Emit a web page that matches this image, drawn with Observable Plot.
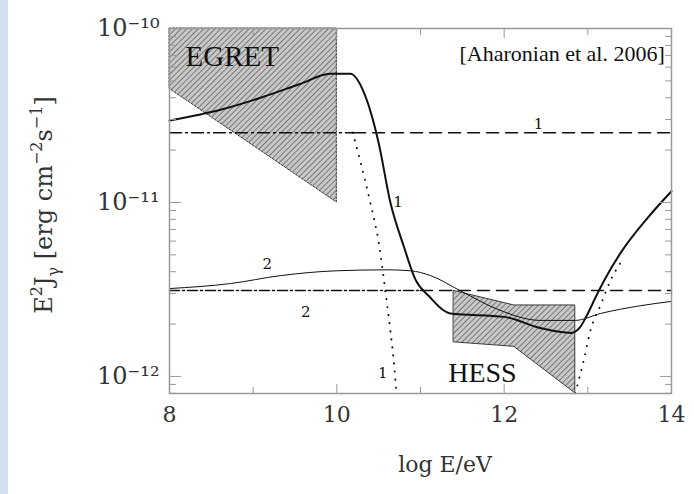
<!DOCTYPE html>
<html><head><meta charset="utf-8">
<script src="https://cdn.jsdelivr.net/npm/d3@7"></script>
<script src="https://cdn.jsdelivr.net/npm/@observablehq/plot@0.6"></script>
<style>
body{margin:0;background:#fff;}
#wrap{position:relative;width:694px;height:494px;background:linear-gradient(to right,#cfe0f2 0,#cfe0f2 8px,#fff 8px);}
</style></head><body><div id="wrap"></div>
<script>
const curve1X = [8, 8.61, 9.09, 9.56, 9.92, 10.16, 10.34, 10.5, 10.64, 10.8, 10.94, 11.1, 11.36, 12.0, 12.43, 12.8, 12.9, 13.0, 13.1, 13.2, 13.4, 13.7, 14];
const curve1Y = [2.96e-11, 3.41e-11, 4.0e-11, 4.8e-11, 5.5e-11, 5.5e-11, 4.1e-11, 2.2e-11, 1.0e-11, 5.6e-12, 3.6e-12, 2.9e-12, 2.3e-12, 2.2e-12, 1.9e-12, 1.78e-12, 1.9e-12, 2.3e-12, 2.9e-12, 3.6e-12, 5.2e-12, 8.0e-12, 1.16e-11];
const curve2X = [8, 8.73, 9.33, 10, 10.6, 10.88, 11.12, 11.48, 11.95, 12.43, 12.85, 13.15, 13.63, 14];
const curve2Y = [3.2e-12, 3.42e-12, 3.8e-12, 4.05e-12, 4.1e-12, 4.05e-12, 3.8e-12, 3.1e-12, 2.4e-12, 2.1e-12, 2.1e-12, 2.3e-12, 2.55e-12, 2.7e-12];
const dotLX = [10.19, 10.28, 10.4, 10.5, 10.58, 10.64, 10.68, 10.71];
const dotLY = [2.52e-11, 1.73e-11, 1.0e-11, 5.9e-12, 3.1e-12, 1.83e-12, 1.23e-12, 8.2e-13];
const dotRX = [12.85, 12.95, 13.03, 13.15, 13.27, 13.39];
const dotRY = [8.0e-13, 1.23e-12, 1.83e-12, 2.55e-12, 3.55e-12, 4.5e-12];
const egretX = [8, 10];
const egretLow = [4.5e-11, 1.0e-11];
const egretHigh = [1e-10, 1e-10];
const hessX = [11.4, 12.12, 12.85];
const hessLow = [1.57e-12, 1.48e-12, 8.0e-13];
const hessHigh = [3.1e-12, 2.56e-12, 2.56e-12];
const level1 = 2.52e-11, level2 = 3.12e-12;
const level1Split = 10.2, level2Split = 11.0;
const xTicks = [8, 10, 12, 14];
const xMinor = [9, 11, 13];
const yMajor = [1e-12, 1e-11, 1e-10];
const yMinor = [];
for (const d of [1e-12, 1e-11]) for (let k = 2; k <= 9; k++) yMinor.push(k * d);
yMinor.unshift(8e-13, 9e-13);
const labels = [
  {x: 12.41, y: 2.8e-11, t: "1"}, {x: 10.73, y: 1.0e-11, t: "1"}, {x: 10.55, y: 1.05e-12, t: "1"},
  {x: 9.17, y: 4.4e-12, t: "2"}, {x: 9.63, y: 2.35e-12, t: "2"}
];
const sup = {"-":"⁻","0":"⁰","1":"¹","2":"²"};
const fmt = v => "10" + String(Math.round(Math.log10(v))).split("").map(c => sup[c]).join("");

const toPts = (xs, ys) => xs.map((x, i) => ({x, y: ys[i]}));
const band = (xs, lo, hi) => xs.map((x, i) => ({x, lo: lo[i], hi: hi[i]}));
const ink = "#111", font = "DejaVu Serif";

const chart = Plot.plot({
  width: 694, height: 494,
  marginLeft: 169, marginRight: 23, marginTop: 28, marginBottom: 101,
  style: {fontFamily: font, background: "transparent"},
  x: {domain: [8, 14]},
  y: {type: "log", domain: [7.98e-13, 1e-10]},
  marks: [
    Plot.areaY(band(egretX, egretLow, egretHigh), {x: "x", y1: "lo", y2: "hi", fill: "url(#hatch)", stroke: ink, strokeWidth: 0.8, strokeDasharray: "2,1.5"}),
    Plot.areaY(band(hessX, hessLow, hessHigh), {x: "x", y1: "lo", y2: "hi", fill: "url(#hatch)", stroke: ink, strokeWidth: 0.8}),
    Plot.line(toPts([8, level1Split], [level1, level1]), {x: "x", y: "y", stroke: ink, strokeDasharray: "12,4,2,4"}),
    Plot.line(toPts([level1Split, 14], [level1, level1]), {x: "x", y: "y", stroke: ink, strokeDasharray: "12,7"}),
    Plot.line(toPts([8, level2Split], [level2, level2]), {x: "x", y: "y", stroke: ink, strokeDasharray: "10,3,2,3"}),
    Plot.line(toPts([level2Split, 14], [level2, level2]), {x: "x", y: "y", stroke: ink, strokeDasharray: "12,7"}),
    Plot.line(toPts(curve2X, curve2Y), {x: "x", y: "y", stroke: ink, strokeWidth: 1, curve: "monotone-x"}),
    Plot.line(toPts(curve1X, curve1Y), {x: "x", y: "y", stroke: ink, strokeWidth: 2, curve: "monotone-x"}),
    Plot.line(toPts(dotLX, dotLY), {x: "x", y: "y", stroke: ink, strokeWidth: 2, strokeDasharray: "0.1,8", strokeLinecap: "round", curve: "monotone-x"}),
    Plot.line(toPts(dotRX, dotRY), {x: "x", y: "y", stroke: ink, strokeWidth: 2, strokeDasharray: "0.1,8", strokeLinecap: "round", curve: "monotone-x"}),
    Plot.text(labels, {x: "x", y: "y", text: "t", fontSize: 15, fill: ink}),
    Plot.text(["EGRET"], {x: 8.75, y: 6.9e-11, text: d => d, fontSize: 29, fill: ink, fontFamily: "Liberation Serif"}),
    Plot.text(["HESS"], {x: 11.74, y: 1.05e-12, text: d => d, fontSize: 28, fill: ink, fontFamily: "Liberation Serif"}),
    Plot.text(["[Aharonian et al. 2006]"], {x: 13.92, y: 7.1e-11, text: d => d, textAnchor: "end", fontSize: 22, fill: ink, fontFamily: "Liberation Serif"}),
    Plot.frame({stroke: "#999", strokeWidth: 1.5}),
    Plot.axisX({ticks: xTicks, tickSize: -9, tickFormat: d => d, fontSize: 22, tickPadding: 22, stroke: "#999", color: "#333", label: null}),
    Plot.axisX({ticks: xMinor, tickSize: -6, tickFormat: () => "", stroke: "#999", label: null}),
    Plot.axisX({anchor: "top", ticks: xTicks, tickSize: -9, tickFormat: () => "", stroke: "#999", label: null}),
    Plot.axisX({anchor: "top", ticks: xMinor, tickSize: -6, tickFormat: () => "", stroke: "#999", label: null}),
    Plot.axisY({ticks: yMajor, tickSize: -12, tickFormat: fmt, fontSize: 24, tickPadding: 22, stroke: "#999", color: "#333", label: null}),
    Plot.axisY({ticks: yMinor, tickSize: -7, tickFormat: () => "", stroke: "#999", label: null}),
    Plot.axisY({anchor: "right", ticks: yMajor, tickSize: -12, tickFormat: () => "", stroke: "#999", label: null}),
    Plot.axisY({anchor: "right", ticks: yMinor, tickSize: -7, tickFormat: () => "", stroke: "#999", label: null})
  ]
});
const svg = d3.select(chart);
const defs = svg.insert("defs", ":first-child");
const pat = defs.append("pattern").attr("id", "hatch").attr("patternUnits", "userSpaceOnUse")
  .attr("width", 4).attr("height", 4).attr("patternTransform", "rotate(45)");
pat.append("rect").attr("width", 4).attr("height", 4).attr("fill", "#c8c8c8");
pat.append("line").attr("x1", 0).attr("y1", 0).attr("x2", 0).attr("y2", 4).attr("stroke", "#555").attr("stroke-width", 1.4);
svg.append("text").attr("x", 445).attr("y", 472).attr("text-anchor", "middle")
  .attr("font-family", font).attr("font-size", 22).attr("fill", "#333").text("log E/eV");
const yt = svg.append("text").attr("transform", "translate(52,205) rotate(-90)").attr("text-anchor", "middle")
  .attr("font-family", font).attr("font-size", 24).attr("fill", "#333");
yt.append("tspan").text("E");
yt.append("tspan").attr("dy", -10).attr("font-size", 16).text("2");
yt.append("tspan").attr("dy", 10).text("J");
yt.append("tspan").attr("dy", 7).attr("font-size", 16).text("γ");
yt.append("tspan").attr("dy", -7).text(" [erg cm");
yt.append("tspan").attr("dy", -10).attr("font-size", 16).text("−2");
yt.append("tspan").attr("dy", 10).text("s");
yt.append("tspan").attr("dy", -10).attr("font-size", 16).text("−1");
yt.append("tspan").attr("dy", 10).text("]");
document.getElementById("wrap").appendChild(chart);
</script></body></html>
